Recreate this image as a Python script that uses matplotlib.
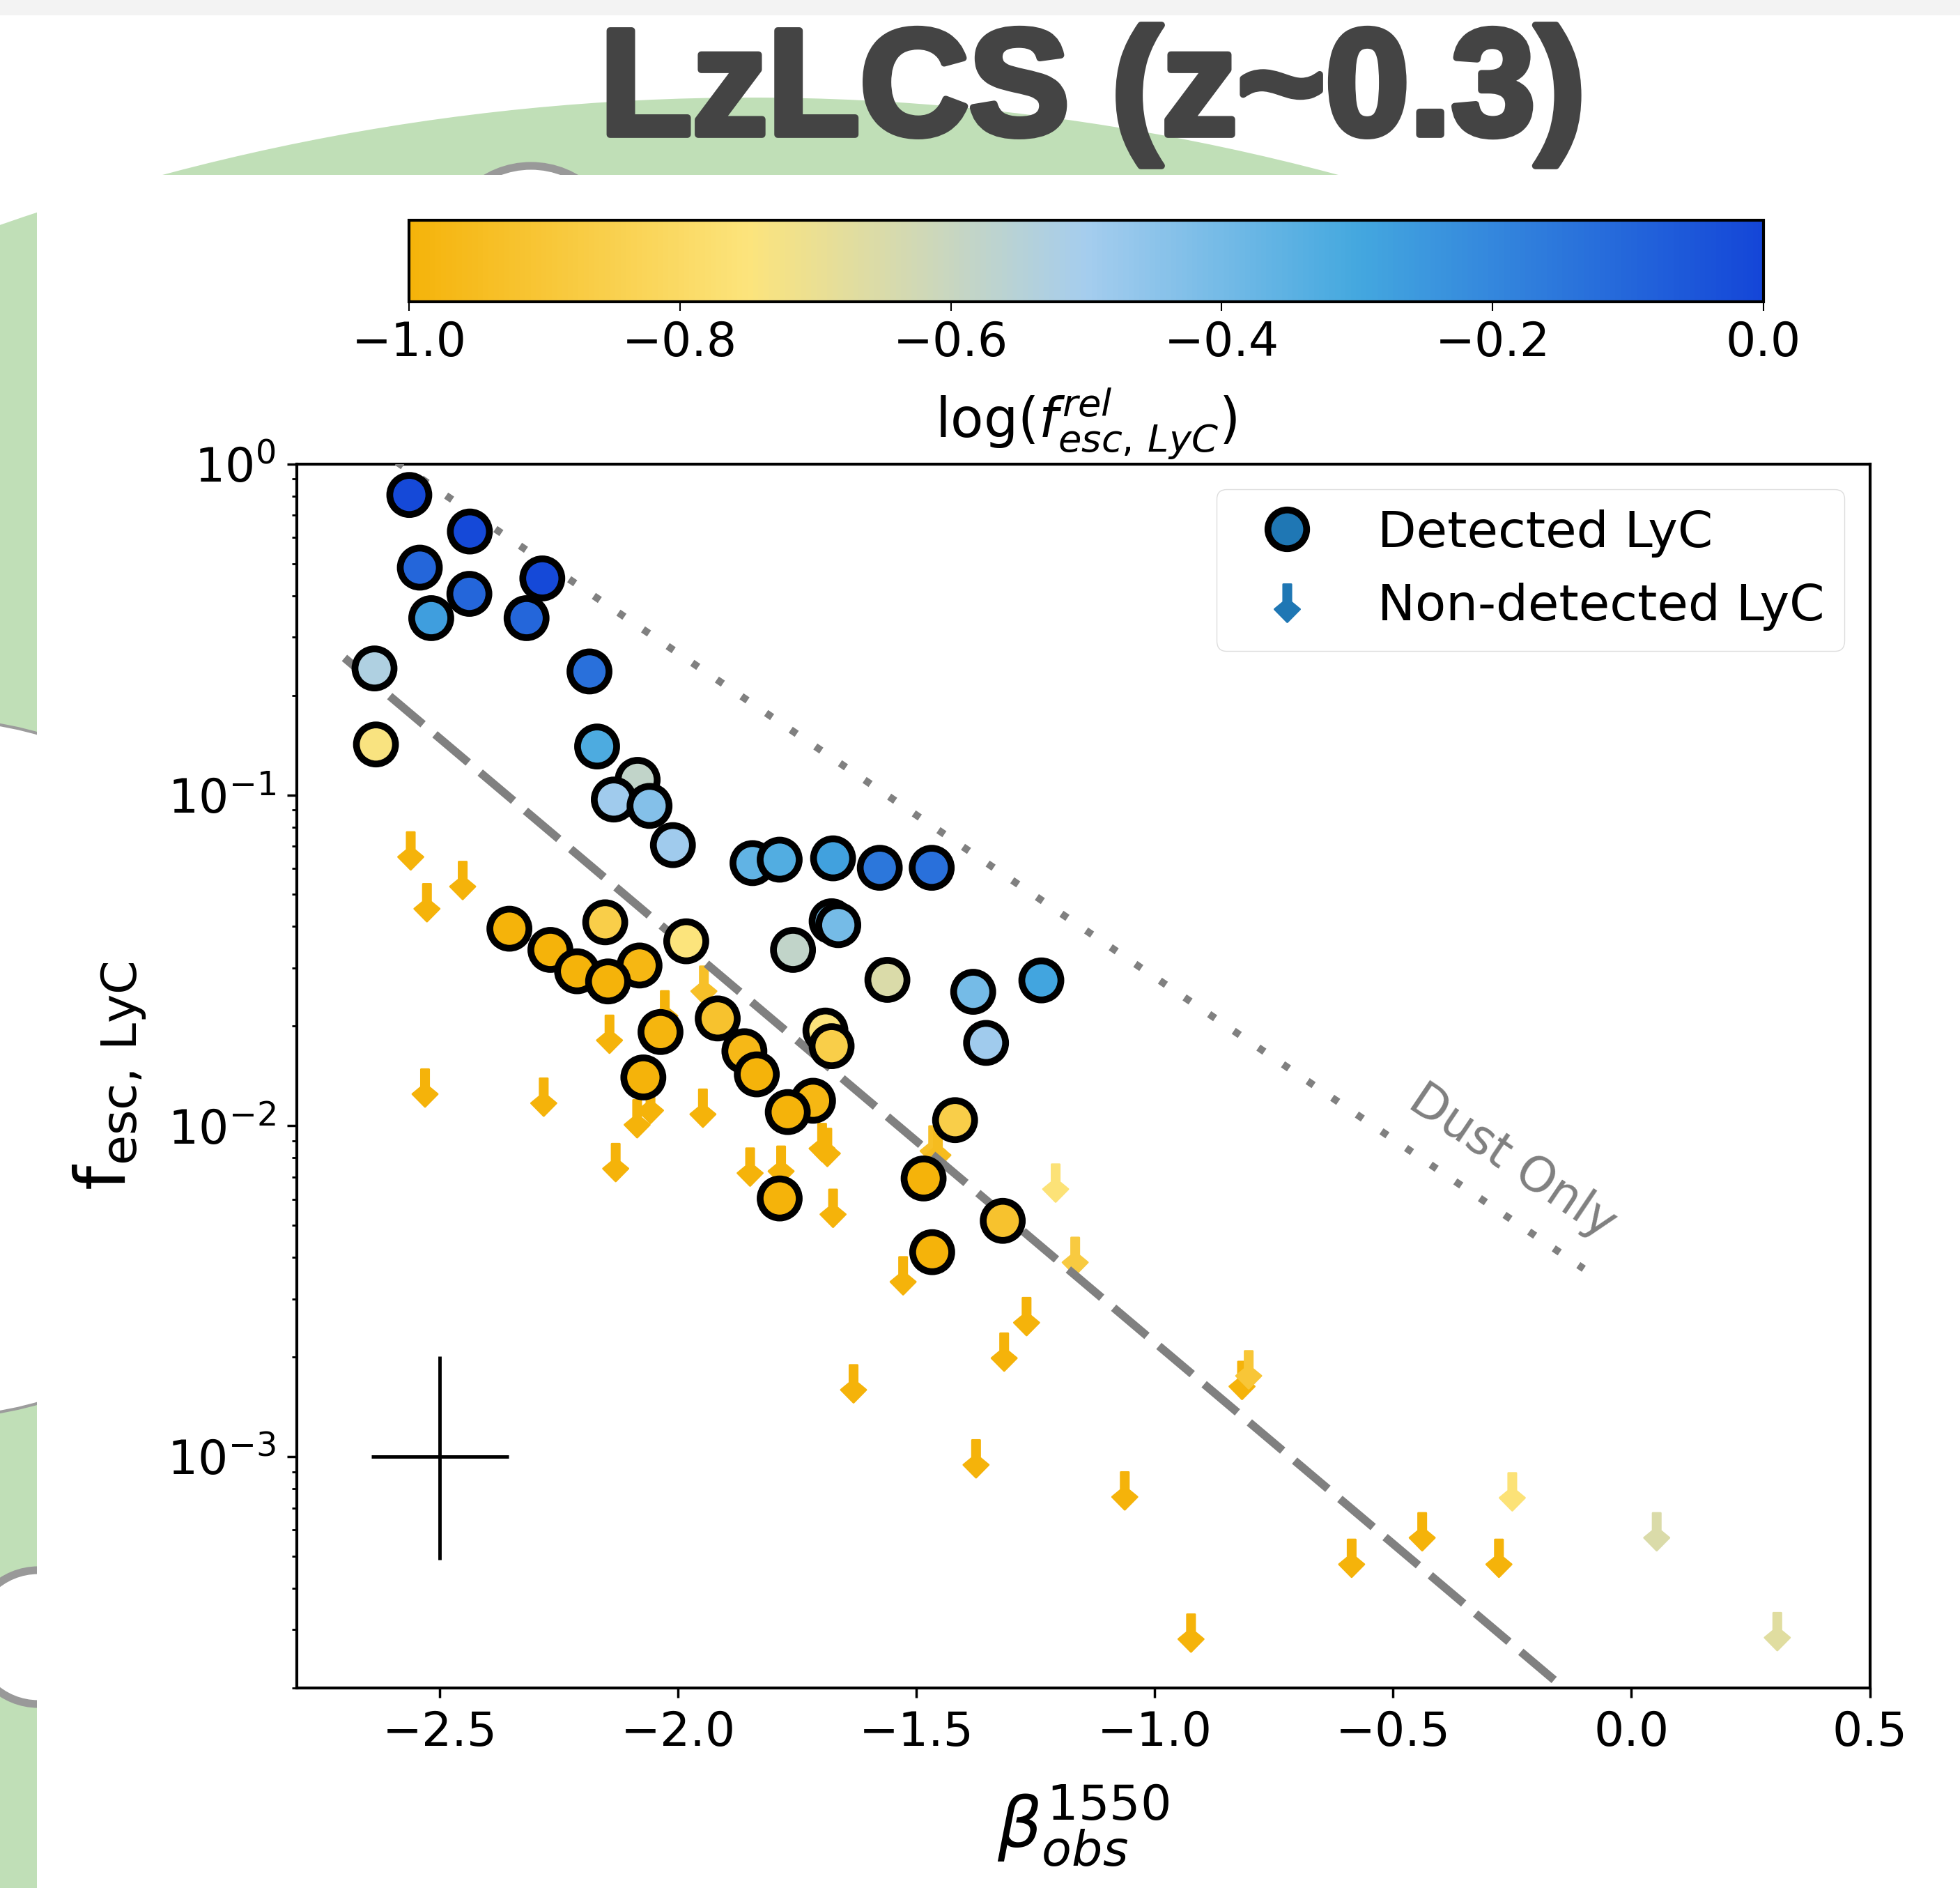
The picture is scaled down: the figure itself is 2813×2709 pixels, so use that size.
import numpy as np
import matplotlib
matplotlib.use('Agg')
import matplotlib.pyplot as plt
from matplotlib.colors import LinearSegmentedColormap
from matplotlib.patches import Circle, Rectangle
from matplotlib.path import Path
from matplotlib.lines import Line2D
import matplotlib.patheffects as pe

plt.rcParams['font.family'] = ['DejaVu Sans']

# Detected LyC: beta_obs, f_esc, log(f_esc^rel)
det_beta = [-2.564, -2.437, -2.542, -2.438, -2.518, -2.285, -2.318, -2.637, -2.634,
            -2.186, -2.170, -2.085, -2.135, -2.060, -2.011, -1.844, -1.787, -1.675,
            -1.577, -1.468, -1.759, -1.678, -1.664, -1.561, -1.381, -1.238, -1.354,
            -2.354, -2.268, -2.212, -2.081, -2.147, -2.153, -1.983, -2.037, -2.073,
            -1.917, -1.861, -1.835, -1.691, -1.678, -1.717, -1.770, -1.419, -1.485,
            -1.787, -1.319, -1.467]
det_fesc = [0.806, 0.625, 0.486, 0.405, 0.342, 0.451, 0.342, 0.241, 0.142,
            0.236, 0.140, 0.111, 0.0968, 0.0926, 0.0705, 0.0622, 0.0637, 0.0643,
            0.0602, 0.0602, 0.034, 0.0415, 0.0404, 0.0276, 0.0254, 0.0275, 0.0178,
            0.0394, 0.0340, 0.0293, 0.0305, 0.0273, 0.0412, 0.0361, 0.0192, 0.0140,
            0.0211, 0.0168, 0.0143, 0.0194, 0.0174, 0.0119, 0.0110, 0.0104, 0.00693,
            0.00603, 0.00516, 0.00415]
det_frel = [-0.01, -0.01, -0.10, -0.10, -0.27, -0.01, -0.10, -0.53, -0.74,
            -0.13, -0.32, -0.58, -0.49, -0.43, -0.49, -0.36, -0.33, -0.28,
            -0.15, -0.13, -0.58, -0.38, -0.40, -0.65, -0.40, -0.29, -0.49,
            -1.0, -1.0, -1.0, -0.98, -1.0, -0.86, -0.75, -0.99, -1.0,
            -0.92, -0.97, -1.0, -0.75, -0.86, -0.98, -1.0, -0.86, -1.0,
            -1.0, -0.92, -1.0]

# Non-detected LyC (upper limits)
ul_beta = [-2.561, -2.452, -2.527, -2.531, -2.282, -2.144, -2.086, -2.058, -2.131,
           -1.948, -1.849, -1.784, -1.946, -2.028, -1.698, -1.687, -1.675, -1.465,
           -1.455, -1.208, -1.167, -1.528, -1.269, -1.316, -1.632, -1.375, -1.063,
           -0.924, -0.817, -0.803, -0.587, -0.439, -0.278, -0.250, 0.053, 0.306]
ul_fesc = [0.0677, 0.0551, 0.0472, 0.0130, 0.0122, 0.0189, 0.0105, 0.0116, 0.00774,
           0.0113, 0.0075, 0.0076, 0.0266, 0.0224, 0.0089, 0.0086, 0.00563, 0.00875,
           0.0085, 0.00671, 0.00403, 0.00352, 0.00265, 0.00207, 0.00166, 0.000985, 0.000788,
           0.000293, 0.0017, 0.00183, 0.000493, 0.000593, 0.000493, 0.000783, 0.000593, 0.000296]
ul_frel = [-1.0, -1.0, -1.0, -1.0, -1.0, -1.0, -1.0, -1.0, -1.0,
           -1.0, -1.0, -1.0, -0.93, -1.0, -1.0, -1.0, -1.0, -0.93,
           -0.95, -0.76, -0.88, -1.0, -1.0, -1.0, -1.0, -1.0, -1.0,
           -1.0, -1.0, -0.9, -1.0, -1.0, -1.0, -0.76, -0.65, -0.67]

# model lines: log f = a + b * beta
fit_a, fit_b, fit_range = -3.872, -1.217, (-2.70, -0.15)
dust_a, dust_b, dust_range = -2.53, -0.979, (-2.59, -0.10)

# typical error bar
err_beta, err_fesc = -2.5, 1e-3
err_dbeta = 0.144
err_lo, err_hi = 5.13e-4, 1.01e-3

cbar_ticks = [-1.0, -0.8, -0.6, -0.4, -0.2, 0.0]
xticks = [-2.5, -2.0, -1.5, -1.0, -0.5, 0.0, 0.5]

cmap = LinearSegmentedColormap.from_list(
    'lzlcs', [(0.0, '#F5B30A'), (0.25, '#FCE47C'), (0.5, '#A5CDEE'),
              (0.7, '#44A8DF'), (1.0, '#1446D8')])

W, H = 2813, 2709
fig = plt.figure(figsize=(W / 100, H / 100), dpi=100)

# slide background
bg = fig.add_axes([0, 0, 1, 1], zorder=-10)
bg.set_xlim(0, W)
bg.set_ylim(H, 0)
bg.axis('off')
bg.add_patch(Circle((1077, 3404), 3264, fc='#C0DFB7', ec='none'))
bg.add_patch(Circle((-84, 1533), 500, fc='white', ec='#9C9C9C', lw=3))
bg.add_patch(Circle((55, 2349), 96, fc='white', ec='#999999', lw=8))
bg.add_patch(Circle((762, 366), 128, fc='white', ec='#999999', lw=8))
bg.add_patch(Rectangle((53, 251), W - 53, H - 251, fc='white', ec='none'))
bg.add_patch(Rectangle((0, 0), W, 22, fc='#F3F3F3', ec='none'))

fig.text(1568 / W, 1 - 193 / H, 'LzLCS (z~0.3)', ha='center', va='baseline',
         fontsize=156, fontweight='bold', color='#444444',
         family=['Liberation Sans', 'DejaVu Sans'],
         path_effects=[pe.withStroke(linewidth=7, foreground='#444444')])

ax = fig.add_axes([426 / W, 1 - 2422 / H, (2683.5 - 426) / W, (2422 - 665.7) / H])
ax.set_yscale('log')
ax.set_xlim(-2.8, 0.5)
ax.set_ylim(2e-4, 1)

arrow = Path([(-0.21, 1), (0.21, 1), (0.21, 0.06), (0.67, -0.32), (0, -1),
              (-0.67, -0.32), (-0.21, 0.06), (-0.21, 1)], closed=True)

ax.scatter(ul_beta, ul_fesc, c=ul_frel, cmap=cmap, vmin=-1, vmax=0, marker=arrow,
           s=1500, linewidths=2, edgecolors='face', zorder=2)

bf = np.linspace(*fit_range, 50)
ax.plot(bf, 10 ** (fit_a + fit_b * bf), color='gray', lw=8.5, dashes=(5.3, 1.9), zorder=3)
bd = np.linspace(*dust_range, 50)
ax.plot(bd, 10 ** (dust_a + dust_b * bd), color='gray', lw=7.5, dashes=(1, 3.1), zorder=3)
ax.text(-0.25, 0.0078, 'Dust Only', rotation=-34, color='gray', fontsize=50,
        ha='center', va='center')

sc = ax.scatter(det_beta, det_fesc, c=det_frel, cmap=cmap, vmin=-1, vmax=0, s=1630,
                edgecolors='black', linewidths=7, zorder=4)

ax.errorbar(err_beta, err_fesc, xerr=err_dbeta, yerr=[[err_lo], [err_hi]],
            fmt='none', ecolor='black', elinewidth=3.5, capsize=0, zorder=4)

ax.set_xticks(xticks)
ax.tick_params(which='major', labelsize=49, length=10, width=2.5, pad=12)
ax.tick_params(which='minor', length=5, width=2)
for s in ax.spines.values():
    s.set_linewidth(3)
ax.set_xlabel(r'$\beta^{1550}_{obs}$', fontsize=72, labelpad=28)
ax.set_ylabel(r'$\mathrm{f_{esc,\,LyC}}$', fontsize=72, labelpad=20)

handles = [Line2D([], [], ls='none', marker='o', mfc='#1f77b4', mec='black', mew=7, ms=40),
           Line2D([], [], ls='none', marker=arrow, mfc='#1f77b4', mec='#1f77b4', mew=2, ms=39)]
ax.legend(handles, ['Detected LyC', 'Non-detected LyC'], loc='upper right', fontsize=52,
          edgecolor='#DDDDDD', framealpha=1)

cax = fig.add_axes([587 / W, 1 - 433 / H, (2531 - 587) / W, (433 - 316) / H])
cb = fig.colorbar(sc, cax=cax, orientation='horizontal', ticks=cbar_ticks)
cb.outline.set_linewidth(3)
cax.tick_params(labelsize=49, length=9, width=1.5, pad=10)
cb.set_label(r'log($f^{rel}_{esc,\,LyC}$)', fontsize=56, labelpad=20)

fig.savefig('out.png', dpi=100)
